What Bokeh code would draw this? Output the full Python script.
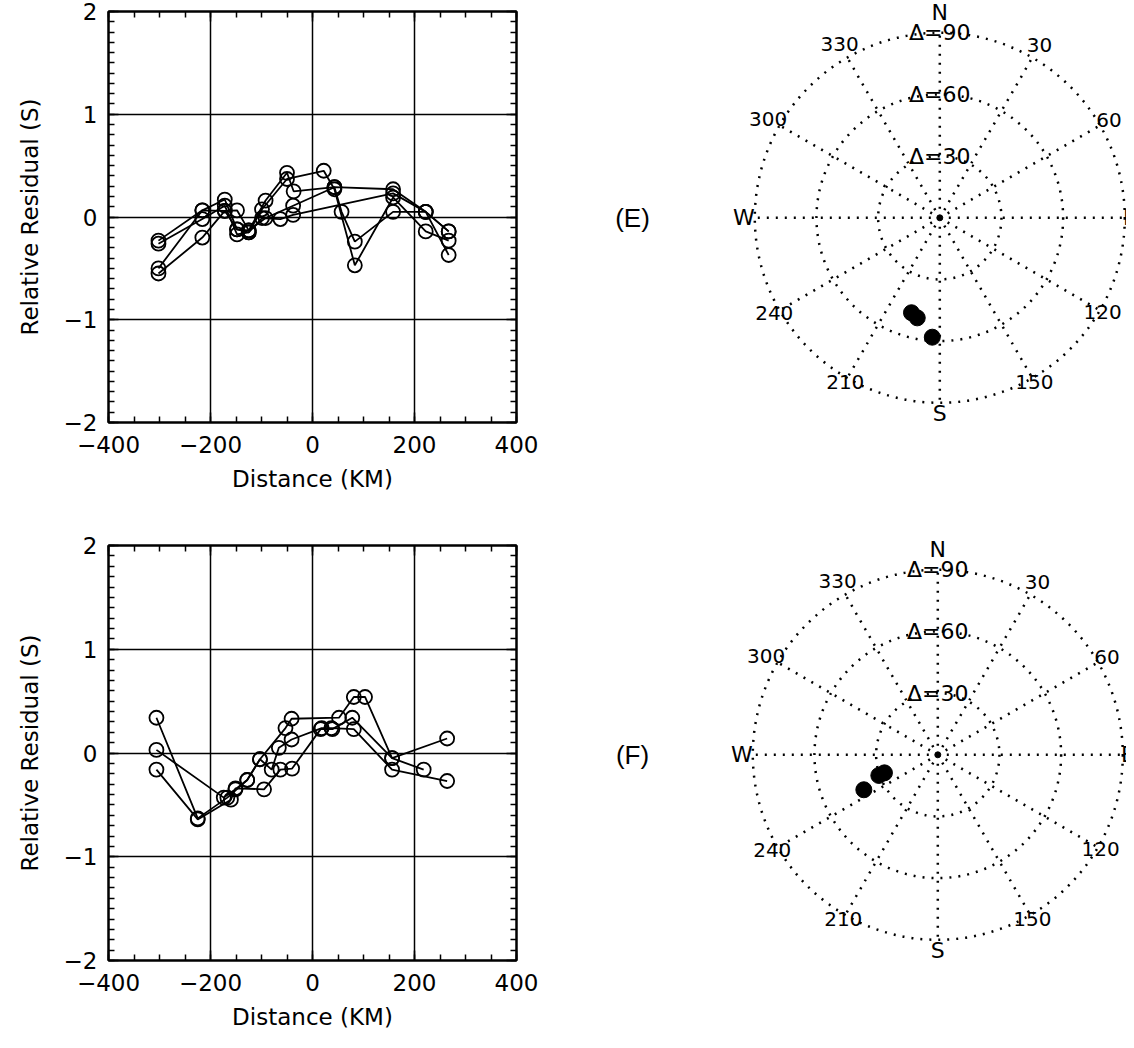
import numpy as np
from bokeh.plotting import figure
from bokeh.layouts import row, column
from bokeh.models import LinearAxis, SingleIntervalTicker, Range1d, Label
from bokeh.embed import file_html
from bokeh.resources import INLINE
from bokeh.core.properties import value

# ---------------- data ----------------
# Panel (E): relative residuals vs distance, one list per event
E1_x = [-302, -216, -172, -148, -125, -92, -50, -37, 43, 57, 83, 158, 222, 267]
E1_y = [-0.23, 0.065, 0.17, -0.12, -0.13, 0.16, 0.43, 0.25, 0.29, 0.05, -0.24, 0.05, 0.05, -0.14]
E2_x = [-302, -216, -172, -148, -125, -99, -50, 22, 43, 83, 158, 222, 267]
E2_y = [-0.26, -0.02, 0.11, -0.17, -0.15, 0.075, 0.37, 0.45, 0.27, -0.47, 0.19, -0.14, -0.23]
E3_x = [-302, -216, -172, -148, -125, -92, -38, 43, 158, 222, 267]
E3_y = [-0.50, 0.065, 0.06, 0.065, -0.13, -0.01, 0.11, 0.29, 0.27, 0.05, -0.14]
E4_x = [-302, -216, -172, -148, -125, -99, -63, -38, 158, 222, 267]
E4_y = [-0.55, -0.20, 0.06, -0.12, -0.15, -0.01, -0.02, 0.02, 0.23, 0.05, -0.37]

# Panel (F)
F1_x = [-306, -225, -167, -128, -103, -53, -41, 52, 81, 103, 156, 264]
F1_y = [0.34, -0.63, -0.43, -0.26, -0.06, 0.24, 0.33, 0.34, 0.54, 0.54, -0.05, 0.14]
F2_x = [-306, -225, -160, -151, -95, -63, -40, 16, 39, 78, 156, 218]
F2_y = [-0.16, -0.64, -0.45, -0.34, -0.35, -0.16, -0.15, 0.23, 0.23, 0.34, -0.05, -0.16]
F3_x = [-306, -174, -151, -128, -103, -80, -66, -41, 18, 37, 81, 156, 264]
F3_y = [0.03, -0.43, -0.35, -0.26, -0.06, -0.16, 0.05, 0.13, 0.24, 0.24, 0.23, -0.16, -0.27]

# Event locations on the polar plots: epicentral distance (deg) and back-azimuth (deg)
E_delta = [48.2, 49.9, 58.2]
E_az = [196.6, 192.7, 183.6]
F_delta = [27.4, 30.4, 39.8]
F_az = [251.3, 250.7, 244.7]

# Tick labels
x_tick_labels = {-400: "\u2212400", -200: "\u2212200", 0: "0", 200: "200", 400: "400"}
y_tick_labels = {-2: "\u22122", -1: "\u22121", 0: "0", 1: "1", 2: "2"}
az_labels = ["30", "60", "120", "150", "210", "240", "300", "330"]
az_label_angles = [30, 60, 120, 150, 210, 240, 300, 330]
ring_deltas = [30, 60, 90]
ring_labels = ["\u0394=30", "\u0394=60", "\u0394=90"]

FONT = "DejaVu Sans"
LW = 560          # left figure width
FRAME_W = 408     # left frame width
B_LEFT = 108


def residual_fig(xs, ys, height, b_top, frame_h):
    b_bottom = height - b_top - frame_h
    p = figure(width=LW, height=height, x_range=Range1d(-400, 400), y_range=Range1d(-2, 2),
               output_backend="svg", toolbar_location=None,
               min_border_left=B_LEFT, min_border_right=LW - B_LEFT - FRAME_W,
               min_border_top=b_top, min_border_bottom=b_bottom)
    p.outline_line_color = "black"
    p.outline_line_width = 2
    p.xaxis.ticker = SingleIntervalTicker(interval=200, num_minor_ticks=4)
    p.yaxis.ticker = SingleIntervalTicker(interval=1, num_minor_ticks=10)
    p.xaxis.major_label_overrides = x_tick_labels
    p.yaxis.major_label_overrides = y_tick_labels
    p.xaxis.axis_label = "Distance (KM)"
    p.yaxis.axis_label = "Relative Residual (S)"
    for ax in (p.xaxis, p.yaxis):
        ax.axis_label_text_font = FONT
        ax.axis_label_text_font_size = "23px"
        ax.axis_label_text_font_style = "normal"
        ax.major_label_text_font = FONT
        ax.major_label_text_font_size = "23px"
        ax.major_tick_in = 10
        ax.major_tick_out = 0
        ax.minor_tick_in = 6
        ax.minor_tick_out = 0
        ax.axis_line_color = "black"
        ax.axis_line_width = 2
        ax.major_tick_line_width = 1.5
        ax.minor_tick_line_width = 1.5
        ax.major_label_text_color = "black"
        ax.axis_label_text_color = "black"
    p.xaxis.major_label_standoff = 13
    p.xaxis.axis_label_standoff = 10
    p.yaxis.major_label_standoff = 11
    p.yaxis.axis_label_standoff = 18
    # mirrored axes (ticks only, empty labels)
    rax = LinearAxis(ticker=SingleIntervalTicker(interval=1, num_minor_ticks=10),
                     major_label_overrides={k: "" for k in y_tick_labels},
                     major_tick_in=10, major_tick_out=0,
                     minor_tick_in=6, minor_tick_out=0, axis_line_width=2,
                     major_tick_line_width=1.5, minor_tick_line_width=1.5,
                     major_label_standoff=0)
    tax = LinearAxis(ticker=SingleIntervalTicker(interval=200, num_minor_ticks=4),
                     major_label_overrides={k: "" for k in x_tick_labels},
                     major_tick_in=10, major_tick_out=0,
                     minor_tick_in=6, minor_tick_out=0, axis_line_width=2,
                     major_tick_line_width=1.5, minor_tick_line_width=1.5,
                     major_label_standoff=0)
    p.add_layout(rax, "right")
    p.add_layout(tax, "above")
    p.xgrid.grid_line_color = "black"
    p.ygrid.grid_line_color = "black"
    p.xgrid.grid_line_width = 1.5
    p.ygrid.grid_line_width = 1.5
    for x, y in zip(xs, ys):
        p.line(x, y, line_color="black", line_width=1.8)
        p.scatter(x, y, marker="circle", size=14, fill_color=None,
                  line_color="black", line_width=1.8)
    return p


S = 185.0 / 90.0  # px per degree on polar plots
PW = 566          # polar figure width


def polar_fig(height, gcx, gcy, gy0, deltas, azs, tag):
    # gcx, gcy: wanted centre on the page; gy0: page y of this figure's top
    cx = gcx - LW
    cyf = gcy - gy0
    x0 = -cx / S
    x1 = (PW - cx) / S
    y1 = cyf / S
    y0 = -(height - cyf) / S
    p = figure(width=PW, height=height, x_range=Range1d(x0, x1), y_range=Range1d(y0, y1),
               output_backend="svg", toolbar_location=None, min_border=0,
               x_axis_type=None, y_axis_type=None)
    p.outline_line_color = None
    p.grid.visible = False
    dash = "2 7"
    p.circle(x=[0, 0, 0], y=[0, 0, 0], radius=ring_deltas, fill_color=None,
             line_color="black", line_width=2.5, line_dash=dash)
    angs = np.radians(np.arange(0, 360, 30))
    xs = [[0, 90 * np.sin(a)] for a in angs]
    ys = [[0, 90 * np.cos(a)] for a in angs]
    p.multi_line(xs, ys, line_color="black", line_width=2.5, line_dash=dash)
    p.scatter([0], [0], size=6, color="black")
    # azimuth labels
    radii = [97, 95, 91.5, 92, 92, 93, 96.5, 97.5]
    aa = np.radians(az_label_angles)
    p.text(x=[r * np.sin(a) for r, a in zip(radii, aa)],
           y=[r * np.cos(a) for r, a in zip(radii, aa)],
           text=az_labels, text_font=value(FONT), text_font_size="20px",
           text_align="center", text_baseline="middle", text_color="black")
    # ring labels
    p.text(x=[0, 0, 0], y=ring_deltas, text=ring_labels, text_font=value(FONT),
           text_font_size="22px", text_align="center", text_baseline="middle",
           text_color="black")
    # compass letters
    p.text(x=[0, 0, -95.3, 92.5], y=[100, -95.3, 0, 0], text=["N", "S", "W", "E"],
           text_font=value(FONT), text_font_size="22px", text_align="center",
           text_baseline="middle", text_color="black")
    # events
    d = np.array(deltas)
    a = np.radians(azs)
    p.scatter(d * np.sin(a), d * np.cos(a), marker="circle", size=16, color="black")
    # panel tag at page x = 632
    p.add_layout(Label(x=(632 - LW - cx) / S, y=0, text=tag, text_font="Liberation Sans",
                       text_font_size="26px", text_align="center", text_baseline="middle",
                       text_color="black"))
    return p


H1, H2 = 500, 532
T1, FH1 = 11, 411
T2, FH2 = 45, 415

pE = residual_fig([E1_x, E2_x, E3_x, E4_x], [E1_y, E2_y, E3_y, E4_y], H1, T1, FH1)
pF = residual_fig([F1_x, F2_x, F3_x], [F1_y, F2_y, F3_y], H2, T2, FH2)
qE = polar_fig(H1, 939.3, 217.3, 0, E_delta, E_az, "(E)")
qF = polar_fig(H2, 937.3, 754.3, H1, F_delta, F_az, "(F)")

layout = row(column(pE, pF), column(qE, qF))
open("out.html", "w").write(file_html(layout, INLINE))
